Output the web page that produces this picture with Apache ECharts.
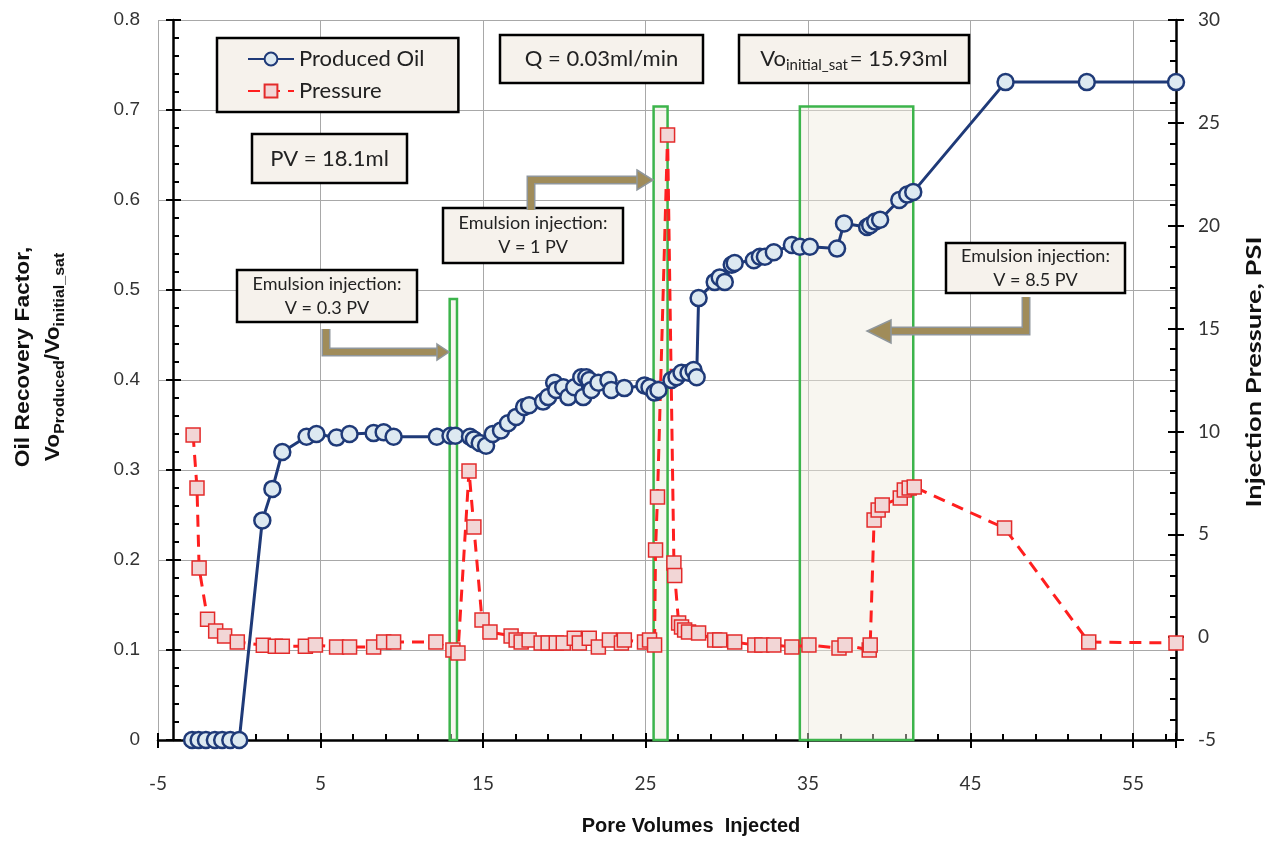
<!DOCTYPE html>
<html>
<head>
<meta charset="utf-8">
</head>
<body style="margin:0;background:#fff">
<div id="container" style="width:1277px;height:841px"></div>
<script type="text/javascript" src="https://cdn.jsdelivr.net/npm/echarts@6.0.0/dist/echarts.min.js"></script>
<script type="text/javascript">
// produced oil (left axis)
var oilX = [-2.9,-2.5,-2.05,-1.5,-1.05,-0.55,0.0,
  1.42,2.04,2.65,4.14,4.75,5.99,6.79,8.27,8.89,9.5,
  12.16,13.0,13.3,14.2,14.44,14.8,15.19,15.6,
  16.11,16.54,17.04,17.53,17.84,18.7,19.01,19.38,19.51,19.94,
  20.25,20.62,21.05,21.17,21.36,21.54,21.67,22.1,22.72,22.9,
  23.7,24.94,25.25,25.56,25.8,26.6,26.91,27.22,27.65,27.96,
  28.15,28.27,29.26,29.57,29.88,30.31,30.49,31.67,32.04,32.35,
  32.9,34.01,34.5,35.12,36.79,37.22,38.64,38.83,39.14,39.44,
  40.62,41.11,41.48,47.16,52.16,57.65];
var oilY = [0,0,0,0,0,0,0,
  0.244,0.279,0.32,0.337,0.34,0.336,0.34,0.341,0.342,0.337,
  0.337,0.338,0.338,0.337,0.334,0.33,0.327,0.34,
  0.344,0.352,0.359,0.37,0.372,0.376,0.381,0.397,0.389,0.392,
  0.381,0.392,0.403,0.381,0.403,0.4,0.389,0.397,0.4,0.389,
  0.391,0.394,0.392,0.386,0.389,0.4,0.403,0.408,0.408,0.411,
  0.403,0.491,0.509,0.514,0.509,0.528,0.53,0.533,0.537,0.537,
  0.542,0.55,0.548,0.548,0.546,0.574,0.57,0.572,0.576,0.578,
  0.6,0.606,0.609,0.731,0.731,0.731];

// injection pressure (right axis)
var presX = [-2.84,-2.6,-2.47,-1.95,-1.45,-0.9,-0.12,
  1.48,2.22,2.65,4.07,4.69,5.99,6.79,8.27,8.89,9.5,
  12.1,13.15,13.46,14.14,14.44,14.94,15.43,16.73,17.04,17.35,
  17.84,18.58,19.01,19.51,19.94,20.62,20.93,21.54,22.1,22.78,
  23.52,23.7,24.94,25.25,25.56,25.62,25.74,26.36,26.75,26.8,
  27.04,27.22,27.41,27.65,28.27,29.26,29.57,30.49,31.73,32.16,
  32.9,34.01,35.06,36.91,37.28,38.77,38.83,39.07,39.32,39.57,
  40.68,40.93,41.23,41.54,47.1,52.28,57.65];
var presY = [9.83,7.25,3.36,0.87,0.3,0.06,-0.24,
  -0.39,-0.44,-0.44,-0.44,-0.38,-0.48,-0.48,-0.48,-0.24,-0.24,
  -0.24,-0.63,-0.77,8.08,5.35,0.83,0.25,0.06,-0.14,-0.24,
  -0.14,-0.28,-0.28,-0.28,-0.28,-0.05,-0.28,-0.05,-0.48,-0.14,
  -0.28,-0.14,-0.24,-0.14,-0.38,4.24,6.81,24.41,3.6,3.0,
  0.69,0.49,0.35,0.25,0.2,-0.14,-0.14,-0.24,-0.38,-0.38,
  -0.38,-0.48,-0.38,-0.53,-0.38,-0.63,-0.38,5.7,6.18,6.42,
  6.76,7.15,7.25,7.3,5.3,-0.24,-0.28];

// emulsion injection windows: x start, x end, top (left axis units)
var zoneStart = [12.95, 25.5, 34.5];
var zoneEnd = [13.4, 26.36, 41.48];
var zoneTop = [0.49, 0.704, 0.704];

var xMin = -5, xMax = 57.65;

var oilData = oilX.map(function (x, i) { return [x, oilY[i]]; });
var presData = presX.map(function (x, i) { return [x, presY[i]]; });
var zoneData = zoneStart.map(function (s, i) {
  return [{xAxis: s, yAxis: 0}, {xAxis: zoneEnd[i], yAxis: zoneTop[i]}];
});

var calibri = 'Lato';
var boxFill = '#f6f2ec';

function textBox(x, y, w, h, text, fontSize, rich) {
  return {
    type: 'group',
    z: 100,
    children: [
      {type: 'rect', z: 100, shape: {x: x, y: y, width: w, height: h},
        style: {fill: boxFill, stroke: '#000', lineWidth: 2.5}},
      {type: 'text', z: 101, x: x + w / 2, y: y + h / 2,
        style: {text: text, fontSize: fontSize, fontFamily: calibri, fill: '#222',
          align: 'center', verticalAlign: 'middle', lineHeight: fontSize + 6, rich: rich}}
    ]
  };
}

function arrow(points, head) {
  return {
    type: 'group',
    z: 100,
    children: [
      {type: 'polyline', z: 100, shape: {points: points},
        style: {stroke: '#8f969b', lineWidth: 9, fill: null}},
      {type: 'polyline', z: 100, shape: {points: points},
        style: {stroke: '#a08c5a', lineWidth: 6, fill: null}},
      {type: 'polygon', z: 100, shape: {points: head},
        style: {fill: '#a08c5a', stroke: '#8f969b', lineWidth: 1.5}}
    ]
  };
}

var dom = document.getElementById('container');
var myChart = echarts.init(dom);

var tickStyle = {color: '#000', width: 2};
var option = {
  backgroundColor: '#fff',
  animation: false,
  // grid 0 holds the data; grid 1 only carries the left axis, which crosses x at about -4
  grid: [
    {left: 158, right: 101, top: 20, bottom: 101, outerBoundsMode: 'none', containLabel: false},
    {left: 173, right: 101, top: 20, bottom: 101, outerBoundsMode: 'none', containLabel: false}
  ],
  legend: {
    data: ['Produced Oil', 'Pressure'],
    orient: 'vertical',
    left: 217, top: 38,
    padding: [10, 34, 10, 30],
    itemGap: 10,
    itemWidth: 46, itemHeight: 16,
    backgroundColor: boxFill,
    borderColor: '#000', borderWidth: 2.5, borderRadius: 0,
    textStyle: {fontSize: 22, fontFamily: calibri, color: '#222'}
  },
  xAxis: [{
    type: 'value', min: xMin, max: xMax, interval: 10,
    axisLine: {onZero: false, lineStyle: {color: '#000', width: 2.5}},
    axisTick: {inside: true, length: 7, lineStyle: tickStyle},
    minorTick: {show: true, splitNumber: 5, length: 6, lineStyle: tickStyle},
    splitLine: {show: true, lineStyle: {color: '#a8a8a8', width: 1}},
    axisLabel: {margin: 34, fontSize: 19, fontFamily: calibri, color: '#333', showMaxLabel: false}
  }, {
    type: 'value', min: xMin, max: xMax, interval: 10, position: 'bottom',
    axisLine: {show: false, onZero: false},
    axisTick: {length: 8, lineStyle: tickStyle},
    axisLabel: {show: false},
    splitLine: {show: false}
  }, {
    type: 'value', gridIndex: 1, min: 0, max: 1, show: false
  }],
  yAxis: [{
    type: 'value', min: 0, max: 0.8, interval: 0.1, position: 'left',
    axisLine: {show: false, onZero: false}, axisTick: {show: false}, axisLabel: {show: false},
    splitLine: {show: true, lineStyle: {color: '#a8a8a8', width: 1}}
  }, {
    type: 'value', min: -5, max: 30, interval: 5, position: 'right',
    axisLine: {show: true, onZero: false, lineStyle: {color: '#000', width: 2.5}},
    axisTick: {show: true, inside: true, length: 8, lineStyle: tickStyle},
    minorTick: {show: true, splitNumber: 5, length: 6, lineStyle: tickStyle},
    splitLine: {show: false},
    axisLabel: {margin: 22, fontSize: 19, fontFamily: calibri, color: '#333'}
  }, {
    type: 'value', min: -5, max: 30, interval: 5, position: 'right',
    axisLine: {show: false, onZero: false}, axisTick: {show: true, length: 8, lineStyle: tickStyle},
    axisLabel: {show: false}, splitLine: {show: false}
  }, {
    type: 'value', gridIndex: 1, min: 0, max: 0.8, interval: 0.1, position: 'left',
    axisLine: {show: true, onZero: false, lineStyle: {color: '#000', width: 2.5}},
    axisTick: {show: true, inside: true, length: 8, lineStyle: tickStyle},
    minorTick: {show: true, splitNumber: 5, length: 6, lineStyle: tickStyle},
    splitLine: {show: false},
    axisLabel: {margin: 33, fontSize: 19, fontFamily: 'Liberation Sans', color: '#333',
      formatter: function (v) { return v === 0 ? '0' : v.toFixed(1); }}
  }, {
    type: 'value', gridIndex: 1, min: 0, max: 0.8, interval: 0.1, position: 'left',
    axisLine: {show: false, onZero: false}, axisTick: {show: true, length: 7, lineStyle: tickStyle},
    axisLabel: {show: false}, splitLine: {show: false}
  }],
  series: [{
    name: 'Produced Oil',
    type: 'line',
    xAxisIndex: 0,
    yAxisIndex: 0,
    data: oilData,
    symbol: 'circle',
    symbolSize: 16,
    z: 4,
    lineStyle: {color: '#1f3a78', width: 3},
    itemStyle: {color: '#dde9f1', borderColor: '#1f3a78', borderWidth: 2.5},
    markArea: {
      silent: true,
      label: {show: false},
      itemStyle: {color: 'rgba(240,234,222,0.45)', borderColor: '#3cb44b', borderWidth: 2.5},
      data: zoneData
    }
  }, {
    name: 'Pressure',
    type: 'line',
    xAxisIndex: 0,
    yAxisIndex: 1,
    data: presData,
    symbol: 'rect',
    symbolSize: 14,
    z: 3,
    lineStyle: {color: '#ff1f1f', width: 3, type: [12, 8]},
    itemStyle: {color: '#f2d6d6', borderColor: '#e32b2b', borderWidth: 1.5}
  }],
  graphic: [
    textBox(252, 134, 155, 49, 'PV = 18.1ml', 22),
    textBox(500, 35, 203, 48, 'Q = 0.03ml/min', 22),
    textBox(739, 35, 230, 48, '{m|Vo}{s|initial_sat}{m|= 15.93ml}', 22, {
      m: {fontSize: 22, fontFamily: calibri, lineHeight: 26},
      s: {fontSize: 15, fontFamily: calibri, verticalAlign: 'top', lineHeight: 14, padding: [12, 2, 0, 0]}
    }),
    textBox(237, 270, 180, 52, 'Emulsion injection:\nV = 0.3 PV', 18),
    textBox(443, 208, 180, 55, 'Emulsion injection:\nV = 1 PV', 18),
    textBox(946, 243, 179, 50, 'Emulsion injection:\nV = 8.5 PV', 18),
    arrow([[326, 329], [326, 352], [438, 352]], [[437, 344], [449, 352], [437, 360]]),
    arrow([[531, 210], [531, 180], [638, 180]], [[637, 170], [653, 180], [637, 190]]),
    arrow([[1026, 297], [1026, 331], [890, 331]], [[891, 320], [867, 331], [891, 343]]),
    {
      type: 'text', x: 691, y: 826,
      style: {text: 'Pore Volumes  Injected', fontSize: 20, fontWeight: 'bold',
        fontFamily: 'Liberation Sans', fill: '#111', align: 'center', verticalAlign: 'middle'}
    },
    {
      type: 'text', x: 1254, y: 372, rotation: Math.PI / 2, scaleX: 1.3,
      style: {text: 'Injection Pressure, PSI', fontSize: 21, fontWeight: 'bold',
        fontFamily: calibri, fill: '#111', align: 'center', verticalAlign: 'middle'}
    },
    {
      type: 'text', x: 38, y: 357, rotation: Math.PI / 2, scaleX: 1.14,
      style: {
        text: '{b|Oil Recovery Factor,}\n{b|Vo}{s|Produced}{b|/Vo}{s|initial_sat}',
        align: 'center', verticalAlign: 'middle', fill: '#111',
        rich: {
          b: {fontSize: 20, fontWeight: 'bold', fontFamily: 'Liberation Sans', lineHeight: 30, fill: '#111'},
          s: {fontSize: 14, fontWeight: 'bold', fontFamily: 'Liberation Sans', lineHeight: 14,
            verticalAlign: 'top', padding: [15, 0, 0, 0], fill: '#111'}
        }
      }
    }
  ]
};

myChart.setOption(option);
</script>
</body>
</html>
